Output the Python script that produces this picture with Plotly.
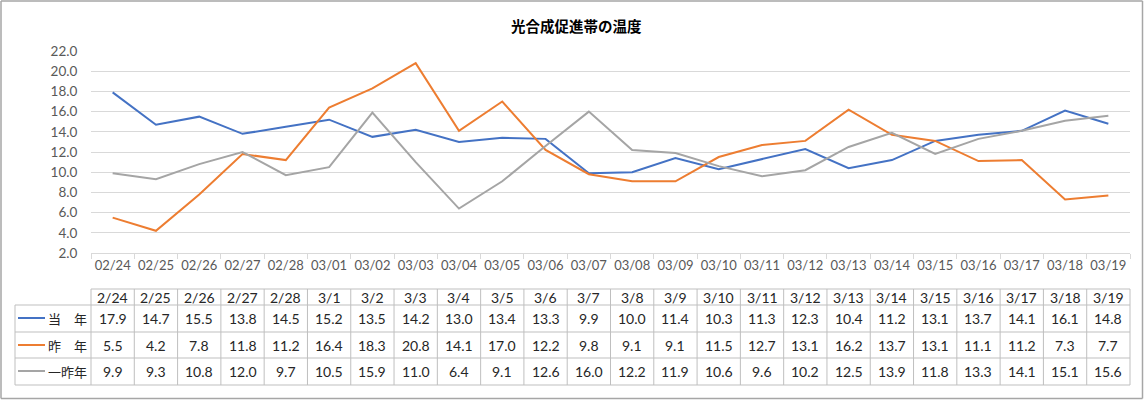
import plotly.graph_objects as go

title = "光合成促進帯の温度"
axis_dates = ["02/24", "02/25", "02/26", "02/27", "02/28", "03/01", "03/02", "03/03", "03/04", "03/05",
              "03/06", "03/07", "03/08", "03/09", "03/10", "03/11", "03/12", "03/13", "03/14", "03/15",
              "03/16", "03/17", "03/18", "03/19"]
table_dates = ["2/24", "2/25", "2/26", "2/27", "2/28", "3/1", "3/2", "3/3", "3/4", "3/5", "3/6", "3/7",
               "3/8", "3/9", "3/10", "3/11", "3/12", "3/13", "3/14", "3/15", "3/16", "3/17", "3/18", "3/19"]
series_names = ["当　年", "昨　年", "一昨年"]
this_year = [17.9, 14.7, 15.5, 13.8, 14.5, 15.2, 13.5, 14.2, 13.0, 13.4, 13.3, 9.9, 10.0, 11.4, 10.3, 11.3,
             12.3, 10.4, 11.2, 13.1, 13.7, 14.1, 16.1, 14.8]
last_year = [5.5, 4.2, 7.8, 11.8, 11.2, 16.4, 18.3, 20.8, 14.1, 17.0, 12.2, 9.8, 9.1, 9.1, 11.5, 12.7,
             13.1, 16.2, 13.7, 13.1, 11.1, 11.2, 7.3, 7.7]
two_years_ago = [9.9, 9.3, 10.8, 12.0, 9.7, 10.5, 15.9, 11.0, 6.4, 9.1, 12.6, 16.0, 12.2, 11.9, 10.6, 9.6,
                 10.2, 12.5, 13.9, 11.8, 13.3, 14.1, 15.1, 15.6]
colors = ["#4472C4", "#ED7D31", "#A5A5A5"]

W, H = 1144, 400
L, R, T, B = 91, 14, 51, 147
PW, PH = W - L - R, H - T - B


def px(x):
    return (x - L) / PW


def py(y):
    return (H - B - y) / PH


FONT = "Lato, 'Noto Sans CJK JP', sans-serif"
JFONT = "'Noto Sans CJK JP', sans-serif"
GRID = "#D9D9D9"
TBL = "#BFBFBF"
BORDER = "#A6A6A6"

fig = go.Figure()
all_series = [this_year, last_year, two_years_ago]
for name, vals, c in zip(series_names, all_series, colors):
    fig.add_trace(go.Scatter(x=axis_dates, y=vals, mode="lines", name=name,
                             line=dict(color=c, width=2), showlegend=False))

shapes = []
# outer border (four edges)
bx0, bx1, by0, by1 = 1, W - 1.5, 1, H - 1.5
for (a, b, c_, d) in [(bx0, by0, bx1, by0), (bx0, by1, bx1, by1), (bx0, by0, bx0, by1), (bx1, by0, bx1, by1)]:
    shapes.append(dict(type="line", xref="paper", yref="paper", x0=px(a), y0=py(b), x1=px(c_), y1=py(d),
                       line=dict(color=BORDER, width=1.5)))
# table lines
n = len(table_dates)
cw = PW / n
row_y = [289, 305, 332, 358, 385]
for i, yy in enumerate(row_y):
    x0 = L if i == 0 else 15
    shapes.append(dict(type="line", xref="paper", yref="paper", x0=px(x0), x1=px(L + PW), y0=py(yy), y1=py(yy),
                       line=dict(color=TBL, width=1)))
shapes.append(dict(type="line", xref="paper", yref="paper", x0=px(15), x1=px(15), y0=py(305), y1=py(385),
                   line=dict(color=TBL, width=1)))
for k in range(n + 1):
    xx = L + k * cw
    shapes.append(dict(type="line", xref="paper", yref="paper", x0=px(xx), x1=px(xx), y0=py(289), y1=py(385),
                       line=dict(color=TBL, width=1)))

annotations = []
annotations.append(dict(text="<b>" + title + "</b>", xref="paper", yref="paper", x=px(W / 2 + 4), y=py(25),
                        showarrow=False, font=dict(family=JFONT, size=14.5, color="#000000"),
                        xanchor="center", yanchor="middle"))
for j, d in enumerate(table_dates):
    annotations.append(dict(text=d, xref="x", yref="paper", x=axis_dates[j], y=py(297), showarrow=False,
                            font=dict(family=FONT, size=14, color="#262626"), xanchor="center", yanchor="middle"))
row_centers = [318, 345, 371]
for r_i, (name, vals, c) in enumerate(zip(series_names, all_series, colors)):
    yc = row_centers[r_i]
    for j, v in enumerate(vals):
        annotations.append(dict(text=f"{v:.1f}", xref="x", yref="paper", x=axis_dates[j], y=py(yc),
                                showarrow=False, font=dict(family=FONT, size=14, color="#262626"),
                                xanchor="center", yanchor="middle"))
    shapes.append(dict(type="line", xref="paper", yref="paper", x0=px(18), x1=px(45), y0=py(yc), y1=py(yc),
                       line=dict(color=c, width=2)))
    annotations.append(dict(text=name, xref="paper", yref="paper", x=px(89), y=py(yc), showarrow=False,
                            font=dict(family=JFONT, size=13, color="#262626"), xanchor="right", yanchor="middle"))

fig.update_layout(
    width=W, height=H,
    margin=dict(l=L, r=R, t=T, b=B, autoexpand=False),
    paper_bgcolor="white", plot_bgcolor="white",
    shapes=shapes, annotations=annotations,
    font=dict(family=FONT, size=13, color="#595959"),
)
fig.update_xaxes(type="category", range=[-0.5, n - 0.5], showgrid=False, showline=True, linecolor=GRID,
                 linewidth=1, ticks="outside", tickson="boundaries", ticklen=5, tickcolor=GRID,
                 tickangle=0, tickfont=dict(family=FONT, size=13, color="#595959"), fixedrange=True)
fig.update_yaxes(range=[2, 22], dtick=2, tick0=2, tickformat=".1f", showgrid=True, gridcolor=GRID,
                 gridwidth=1, zeroline=False, showline=False, ticks="outside", ticklen=10, tickcolor="white",
                 tickfont=dict(family=FONT, size=13.5, color="#595959"), fixedrange=True)

fig.write_html("out.html", config={"displayModeBar": False},
               post_script="document.body.style.margin='0';document.body.style.padding='0';")
